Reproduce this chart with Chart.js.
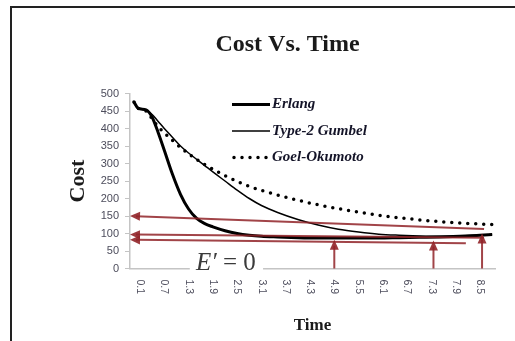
<!DOCTYPE html>
<html>
<head>
<meta charset="utf-8">
<script src="https://cdn.jsdelivr.net/npm/chart.js@4.4.1/dist/chart.umd.min.js"></script>
<style>
  html, body { margin:0; padding:0; background:#fff; }
  canvas { display:block; }
</style>
</head>
<body>
<canvas id="id_chart" width="515" height="341"></canvas>
<script>
// values (time -> cost)
var TIME   = [-0.05, 0.05, 0.25, 0.4, 0.55, 0.7, 0.9, 1.1, 1.3, 1.5, 1.7, 1.9, 2.2, 2.5, 2.8, 3.1, 3.5, 4.0, 4.5, 5.0, 5.5, 6.0, 6.5, 7.0, 7.5, 8.0, 8.5, 8.8];
var ERLANG = [476, 458, 453, 432, 388, 338, 270, 212, 170, 143, 128, 119, 108, 100, 95, 92, 90, 88, 87, 87, 87, 87, 88, 89, 90, 92, 95, 97];
var GUMBEL = [476, 458, 453, 440, 420, 400, 375, 350, 330, 312, 294, 276, 250, 224, 200, 180, 160, 140, 124, 112, 104, 98, 95, 93, 92, 93, 95, 97];
var GOEL   = [476, 458, 450, 428, 405, 388, 366, 346, 328, 312, 297, 284, 265, 249, 235, 223, 210, 195, 182, 171, 161, 152, 145, 139, 134, 130, 127, 126];
var SERIES_NAMES = ["Erlang", "Type-2 Gumbel", "Goel-Okumoto"];
var TIME_LABELS = ["0.1", "0.7", "1.3", "1.9", "2.5", "3.1", "3.7", "4.3", "4.9", "5.5", "6.1", "6.7", "7.3", "7.9", "8.5"];

// red hand-drawn arrows: [from time, from cost, to time, to cost] (head at "to")
var ARROWS = [
	[8.6, 113, -0.147, 150],
	[8.6, 88, -0.147, 97],
	[8.15, 72, -0.147, 82],
	[4.9, 0, 4.9, 82],
	[7.35, 0, 7.35, 80],
	[8.55, 0, 8.55, 100]
];
var NOTE_TIME = 2.22; // where "E' = 0" sits on the time axis
var NOTE_GAP = [1.33, 3.14];

var toPts = function( ys ){
	var out = [], i;
	for( i=0; i<TIME.length; i++ ){
		out.push({ x : TIME[i], y : ys[i] });
	}
	return out;
};

var drawArrow = function( ctx, x1, y1, x2, y2 ){
	var a = Math.atan2( y2-y1, x2-x1 ), L = 10, W = 4.5;
	var c = Math.cos(a), s = Math.sin(a);
	ctx.beginPath();
	ctx.moveTo( x1, y1 );
	ctx.lineTo( x2 - L*0.6*c, y2 - L*0.6*s );
	ctx.stroke();
	ctx.beginPath();
	ctx.moveTo( x2, y2 );
	ctx.lineTo( x2 - L*c + W*s, y2 - L*s - W*c );
	ctx.lineTo( x2 - L*c - W*s, y2 - L*s + W*c );
	ctx.closePath();
	ctx.fill();
};

var decor = {
	id : "decor",
	beforeDraw : function( chart ){
		var ctx = chart.ctx;
		ctx.save();
		ctx.fillStyle = "#fff";
		ctx.fillRect( 0, 0, chart.width, chart.height );
		ctx.restore();
	},
	afterDraw : function( chart ){
		var ctx = chart.ctx, xs = chart.scales.x, ys = chart.scales.y, area = chart.chartArea;
		var i, px;
		ctx.save();

		// frame of the picture
		ctx.fillStyle = "#222";
		ctx.fillRect( 10, 6, 2, chart.height - 6 );
		ctx.fillRect( 10, 6, chart.width - 10, 2 );

		// time labels, turned to read downward
		ctx.font = "10.5px 'Liberation Sans'";
		ctx.fillStyle = "#4d4d5c";
		ctx.textAlign = "left";
		ctx.textBaseline = "middle";
		for( i=0; i<TIME_LABELS.length; i++ ){
			px = xs.getPixelForValue( parseFloat( TIME_LABELS[i] ) );
			ctx.save();
			ctx.translate( px, area.bottom + 11 );
			ctx.rotate( Math.PI/2 );
			ctx.fillText( TIME_LABELS[i], 0, 0 );
			ctx.restore();
		}

		// legend inside the plot
		var ds = chart.data.datasets;
		var lx = area.left + 102, ly = area.top + 11;
		ctx.font = "italic bold 15px 'Liberation Serif'";
		ctx.textBaseline = "middle";
		for( i=0; i<ds.length; i++ ){
			var yy = ly + i*26.5;
			ctx.save();
			ctx.strokeStyle = ds[i].borderColor;
			ctx.lineWidth = ds[i].borderWidth;
			ctx.lineCap = ds[i].borderCapStyle || "butt";
			ctx.setLineDash( ds[i].borderDash || [] );
			ctx.beginPath();
			ctx.moveTo( lx + (ds[i].borderDash ? 2 : 0), yy );
			ctx.lineTo( lx + 38, yy );
			ctx.stroke();
			ctx.restore();
			ctx.fillStyle = "#141428";
			ctx.fillText( ds[i].label, lx + 40, yy );
		}

		// E' = 0 note over the axis
		var nx = xs.getPixelForValue( NOTE_TIME ), ny = ys.getPixelForValue( 0 );
		ctx.fillStyle = "#fff";
		ctx.fillRect( xs.getPixelForValue( NOTE_GAP[0] ), ny - 2, xs.getPixelForValue( NOTE_GAP[1] ) - xs.getPixelForValue( NOTE_GAP[0] ), 4 );
		ctx.fillStyle = "#3a3a3a";
		ctx.textBaseline = "alphabetic";
		ctx.textAlign = "left";
		ctx.font = "italic 25px 'Liberation Serif'";
		var w1 = ctx.measureText( "E\u2032" ).width;
		ctx.font = "25px 'Liberation Serif'";
		var w2 = ctx.measureText( " = 0" ).width;
		var sx = nx - (w1 + w2)/2;
		ctx.font = "italic 25px 'Liberation Serif'";
		ctx.fillText( "E\u2032", sx, ny + 1 );
		ctx.font = "25px 'Liberation Serif'";
		ctx.fillText( " = 0", sx + w1, ny + 1 );

		// red arrows
		ctx.strokeStyle = "rgba(145,35,40,0.85)";
		ctx.fillStyle = "rgba(145,35,40,0.9)";
		ctx.lineWidth = 2;
		for( i=0; i<ARROWS.length; i++ ){
			var a = ARROWS[i];
			drawArrow( ctx,
				xs.getPixelForValue( a[0] ), ys.getPixelForValue( a[1] ),
				xs.getPixelForValue( a[2] ), ys.getPixelForValue( a[3] ) );
		}
		ctx.restore();
	}
};

var ctx = document.getElementById("id_chart").getContext("2d");
var myChart = new Chart(ctx, {
	type : "line",
	data : {
		datasets : [
			{ label : SERIES_NAMES[0], data : toPts( ERLANG ), borderColor : "#000", borderWidth : 3, pointRadius : 0 },
			{ label : SERIES_NAMES[1], data : toPts( GUMBEL ), borderColor : "#000", borderWidth : 1.5, pointRadius : 0 },
			{ label : SERIES_NAMES[2], data : toPts( GOEL ), borderColor : "#000", borderWidth : 3.5, pointRadius : 0,
			  borderDash : [0, 8], borderCapStyle : "round" }
		]
	},
	options : {
		responsive : false,
		animation : false,
		events : [],
		layout : { padding : { left : 80, right : 20, top : 8, bottom : 0 } },
		elements : { line : { tension : 0.4, cubicInterpolationMode : "monotone" } },
		plugins : {
			legend : { display : false },
			tooltip : { enabled : false },
			title : {
				display : true,
				text : "Cost Vs. Time",
				color : "#1a1a1a",
				font : { family : "'Liberation Serif'", size : 24, weight : "bold" },
				padding : { top : 22, bottom : 34.7 }
			}
		},
		scales : {
			x : {
				type : "linear",
				min : -0.147,
				max : 8.87,
				ticks : { display : false },
				grid : { drawOnChartArea : false, drawTicks : false },
				border : { display : true, color : "#c4c4c4", width : 1.5 },
				title : {
					display : true,
					text : "Time",
					color : "#1a1a1a",
					font : { family : "'Liberation Serif'", size : 17, weight : "bold" },
					padding : { top : 0, bottom : 4.8 }
				},
				afterFit : function( scale ){ scale.height = 72.5; }
			},
			y : {
				min : 0,
				max : 500,
				ticks : { stepSize : 50, padding : 6, color : "#4d4d5c", font : { family : "'Liberation Sans'", size : 11 } },
				grid : { drawOnChartArea : false, drawTicks : true, tickLength : 5, color : "#c4c4c4" },
				border : { display : true, color : "#c4c4c4", width : 1.5 },
				title : {
					display : true,
					text : "Cost",
					color : "#1a1a1a",
					font : { family : "'Liberation Serif'", size : 22, weight : "bold" },
					padding : { top : -15, bottom : 0 }
				},
				afterFit : function( scale ){ scale.width = 50; }
			}
		}
	},
	plugins : [ decor ]
});
</script>
</body>
</html>
